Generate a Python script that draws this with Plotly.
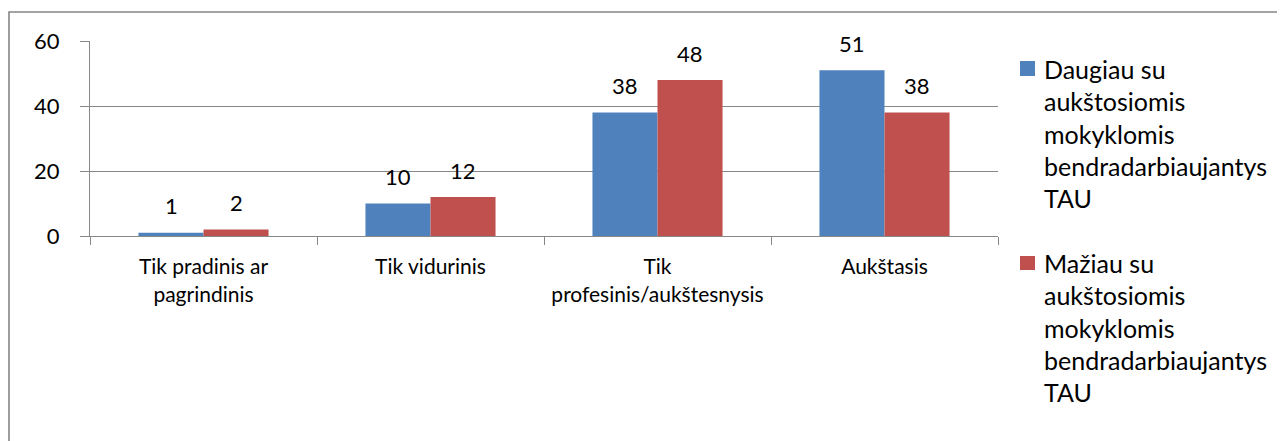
import plotly.graph_objects as go

categories = ["Tik pradinis ar<br>pagrindinis", "Tik vidurinis", "Tik<br>profesinis/aukštesnysis", "Aukštasis"]
series_names = [
    "Daugiau su aukštosiomis mokyklomis bendradarbiaujantys TAU",
    "Mažiau su aukštosiomis mokyklomis bendradarbiaujantys TAU",
]
legend_lines = [
    ["Daugiau su", "aukštosiomis", "mokyklomis", "bendradarbiaujantys", "TAU"],
    ["Mažiau su", "aukštosiomis", "mokyklomis", "bendradarbiaujantys", "TAU"],
]
daugiau = [1, 10, 38, 51]
maziau = [2, 12, 48, 38]
y_ticks = [0, 20, 40, 60]

colors = ["#4F81BD", "#C0504D"]
FONT = "Lato"
GRID = "#888888"

OFF = 8  # browser body margin
W, H = 1285 - OFF, 441 - OFF
L, R, T, B = 90, 998, 41, 236  # plot area in reference pixels


def px(xp):
    return (xp - L) / (R - L)


def py(yp):
    return (B - yp) / (B - T)


fig = go.Figure()
for name, vals, col in zip(series_names, [daugiau, maziau], colors):
    fig.add_trace(go.Bar(x=categories, y=vals, name=name, marker=dict(color=col, line=dict(width=0)),
                         showlegend=False))

annotations = []
for vals, xs in zip([daugiau, maziau], [-32.5, 32.5]):
    for c, v in zip(categories, vals):
        annotations.append(dict(x=c, y=v, xref="x", yref="y", text=str(v), showarrow=False,
                                xshift=xs, yshift=27, yanchor="middle",
                                font=dict(family=FONT, size=22, color="#000000")))

# manual legend
legend_baselines = [[76.7, 109, 141.7, 174, 206], [270.7, 303, 335.5, 368, 400]]
squares = [(61, 76), (256, 270)]
shapes = []
for i in range(2):
    y0, y1 = squares[i]
    shapes.append(dict(type="rect", xref="paper", yref="paper", x0=px(1020), x1=px(1035),
                       y0=py(y1), y1=py(y0), fillcolor=colors[i], line=dict(width=0)))
    for line, bl in zip(legend_lines[i], legend_baselines[i]):
        annotations.append(dict(x=px(1042), y=py(bl - 8), xref="paper", yref="paper", text=line,
                                showarrow=False, xanchor="left", yanchor="middle",
                                font=dict(family=FONT, size=25, color="#000000")))

# outer chart border (left and top visible)
shapes.append(dict(type="rect", xref="paper", yref="paper", x0=px(9), x1=px(1300),
                   y0=py(460), y1=py(12), line=dict(color="#868686", width=1.6),
                   fillcolor="rgba(0,0,0,0)", layer="below"))

fig.update_layout(
    width=W, height=H,
    margin=dict(l=L - OFF, r=1285 - R, t=T - OFF, b=441 - B, pad=0),
    paper_bgcolor="white", plot_bgcolor="white",
    barmode="group", bargap=0.427, bargroupgap=0,
    font=dict(family=FONT, size=18, color="#000000"),
    xaxis=dict(showline=True, linecolor=GRID, linewidth=1, ticks="outside", tickson="boundaries",
               ticklen=8, tickcolor=GRID, tickfont=dict(family=FONT, size=21), showgrid=False,
               ticklabelstandoff=12),
    yaxis=dict(range=[0, 60], tickvals=y_ticks, showline=True, linecolor=GRID, linewidth=1,
               ticks="outside", ticklen=9, tickcolor=GRID, showgrid=True, gridcolor=GRID,
               gridwidth=1, zeroline=False, tickfont=dict(family=FONT, size=22),
               ticklabelstandoff=16),
    annotations=annotations,
    shapes=shapes,
)

fig.write_html("out.html")
